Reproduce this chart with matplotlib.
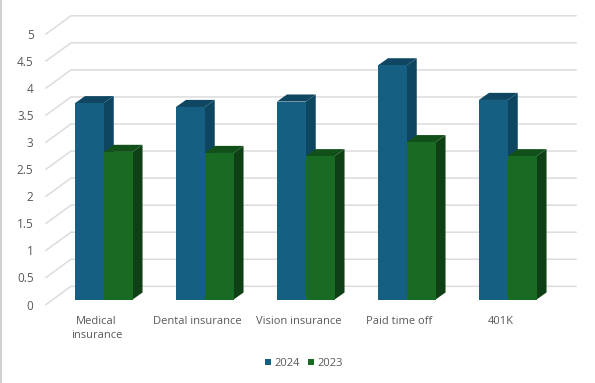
import matplotlib
matplotlib.use('Agg')
import matplotlib.pyplot as plt
from matplotlib.patches import Polygon, Rectangle

categories = ['Medical\ninsurance', 'Dental insurance', 'Vision insurance', 'Paid time off', '401K']
values_2024 = [3.63, 3.56, 3.66, 4.33, 3.69]
values_2023 = [2.73, 2.71, 2.65, 2.91, 2.65]
y_ticks = [0, 0.5, 1, 1.5, 2, 2.5, 3, 3.5, 4, 4.5, 5]
y_labels = ['0', '0.5', '1', '1.5', '2', '2.5', '3', '3.5', '4', '4.5', '5']

W, H = 595, 383
text_color = '#595959'
grid_color = '#dcdcdc'

plt.rcParams['font.family'] = ['Open Sans', 'DejaVu Sans']

fig = plt.figure(figsize=(W / 100, H / 100), dpi=100)
left, right, bottom, top = 46, 551, 304.5, 34
ax = fig.add_axes([left / W, 1 - bottom / H, (right - left) / W, (bottom - top) / H])
ax.set_xlim(-0.5, 4.5)
ax.set_ylim(0, 5)

# thin grey edge on the left of the picture
fig.add_artist(Rectangle((0, 0), 1.5 / W, 1, transform=fig.transFigure, fc='#d0d0d0', ec='none'))

# oblique depth of the floor, in data units
depth_x = 25 / 101
depth_y = 18.2 / 54.1

# back wall and side wall lines
for v in y_ticks:
    ax.plot([-0.5, -0.5 + depth_x, 4.5 + depth_x], [v, v + depth_y, v + depth_y],
            color=grid_color, lw=1.1, clip_on=False, zorder=1)

bar_w = 0.285
front_x = 0.29 * depth_x
front_y = 0.27 * depth_y
bar_dx = 0.40 * depth_x
bar_dy = 0.39 * depth_y


def draw_bar(x0, val, face, side, roof, z):
    x1 = x0 + bar_w
    y0 = front_y
    y1 = front_y + val
    ax.add_patch(Polygon([(x1, y0), (x1 + bar_dx, y0 + bar_dy), (x1 + bar_dx, y1 + bar_dy), (x1, y1)],
                         fc=side, ec='none', clip_on=False, zorder=z))
    ax.add_patch(Polygon([(x0, y1), (x0 + bar_dx, y1 + bar_dy), (x1 + bar_dx, y1 + bar_dy), (x1, y1)],
                         fc=roof, ec='none', clip_on=False, zorder=z))
    return ax.bar(x0, val, bar_w, bottom=y0, align='edge', color=face, clip_on=False, zorder=z + 0.1)


for i in range(len(categories)):
    cx = i + front_x
    h1 = draw_bar(cx - bar_w, values_2024[i], '#156082', '#0e4560', '#0f4762', 2)
    h2 = draw_bar(cx, values_2023[i], '#196b24', '#0f4015', '#12501a', 3)

for s in ax.spines.values():
    s.set_visible(False)
ax.set_xticks(range(len(categories)))
ax.set_xticklabels(categories, fontsize=8, color=text_color, linespacing=1.4)
ax.set_yticks(y_ticks)
ax.set_yticklabels(y_labels, fontsize=8.5, color=text_color, va='center_baseline')
ax.tick_params(axis='both', length=0)
ax.tick_params(axis='x', pad=8)
ax.tick_params(axis='y', pad=9)

fig.legend(handles=[h1, h2], labels=['2024', '2023'], loc='center', bbox_to_anchor=(304 / W, 1 - 363.5 / H),
           ncol=2, frameon=False, fontsize=8, labelcolor=text_color, handlelength=0.5, handleheight=0.5,
           handletextpad=0.3, columnspacing=0.8, borderpad=0)

fig.savefig('out.png', dpi=100)
